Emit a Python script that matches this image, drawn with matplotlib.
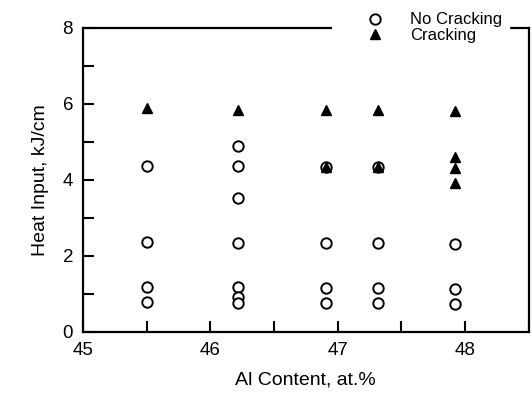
import numpy as np
import matplotlib
matplotlib.use("Agg")
import matplotlib.pyplot as plt
from matplotlib.patches import Rectangle

plt.rcParams["font.family"] = ["Liberation Sans", "DejaVu Sans"]

# ---- data
no_crack_al = [45.5, 45.5, 45.5, 45.5,
               46.22, 46.22, 46.22, 46.22, 46.22, 46.22, 46.22,
               46.91, 46.91, 46.91, 46.91,
               47.32, 47.32, 47.32, 47.32,
               47.92, 47.92, 47.92]
no_crack_heat = [4.37, 2.37, 1.18, 0.80,
                 4.88, 4.37, 3.53, 2.35, 1.17, 0.92, 0.77,
                 4.35, 2.34, 1.16, 0.76,
                 4.35, 2.34, 1.16, 0.76,
                 2.31, 1.13, 0.74]

crack_al = [45.5, 46.22, 46.91, 46.91, 47.32, 47.32,
            47.92, 47.92, 47.92, 47.92]
crack_heat = [5.89, 5.84, 5.84, 4.35, 5.84, 4.35,
              5.82, 4.61, 4.30, 3.91]

x_ticks = np.arange(45, 48.51, 0.5)
x_labels = ["45", "", "46", "", "47", "", "48", ""]
y_ticks = np.arange(0, 9, 1)
y_labels = ["0", "", "2", "", "4", "", "6", "", "8"]

fig = plt.figure(figsize=(5.31, 3.98), dpi=100)
ax = fig.add_axes([0.156, 0.166, 0.84, 0.764])

ax.plot(no_crack_al, no_crack_heat, ls="none", marker="o", ms=7.5,
        mfc="white", mec="black", mew=1.4, label="No Cracking")
ax.plot(crack_al, crack_heat, ls="none", marker="^", ms=7.5,
        mfc="black", mec="black", label="Cracking")

ax.set_xlim(45, 48.5)
ax.set_ylim(0, 8)
ax.set_xticks(x_ticks)
ax.set_xticklabels(x_labels)
ax.set_yticks(y_ticks)
ax.set_yticklabels(y_labels)
ax.tick_params(direction="in", length=8, width=1.5, labelsize=13.5, pad=7)

for s in ax.spines.values():
    s.set_linewidth(1.6)

ax.set_xlabel("Al Content, at.%", fontsize=14, labelpad=9)
ax.set_ylabel("Heat Input, kJ/cm", fontsize=14, labelpad=10)

leg = ax.legend(loc="upper left", bbox_to_anchor=(0.603, 1.1), fontsize=12,
                handlelength=1.0, handletextpad=1.6, labelspacing=0.05,
                borderpad=0.4, frameon=True, fancybox=False, framealpha=1.0,
                edgecolor="white", facecolor="white")
leg.set_clip_on(False)

# the legend box blanks out the top spine a bit further left
ax.add_patch(Rectangle((0.558, 0.98), 0.08, 0.04, transform=ax.transAxes,
                       facecolor="white", edgecolor="none", clip_on=False,
                       zorder=5))

fig.savefig("out.png", dpi=100)
